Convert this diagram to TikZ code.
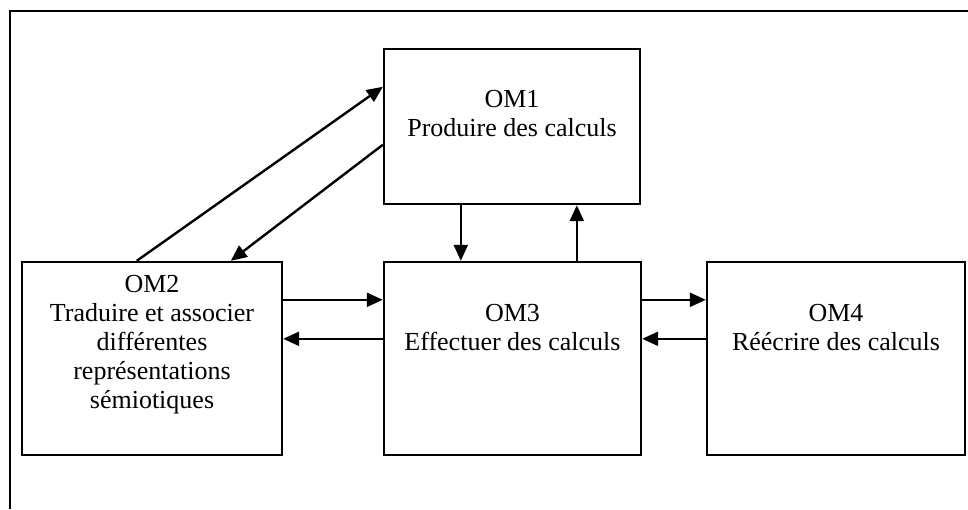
\documentclass[tikz,border=0pt]{standalone}
\usepackage{fontspec}
\setmainfont{Liberation Serif}
\usetikzlibrary{arrows.meta,calc,positioning}

\tikzset{
  ombox/.style={draw, line width=1.2pt, inner sep=0pt, minimum height=96.5pt},
  omtext/.style={align=center, inner sep=0pt, anchor=base,
    font=\fontsize{13}{14.5}\selectfont},
  fleche/.style={line width=1.2pt, -{Triangle[length=8pt,width=7pt]}}
}

\begin{document}
\begin{tikzpicture}[x=0.5pt,y=-0.5pt]
  \useasboundingbox (0,0) rectangle (968,509);
  % cadre (coupe en bas et a droite)
  \draw[line width=1.2pt] (968,11) -- (10,11) -- (10,509);

  % les quatre organisations mathematiques
  \node[ombox, minimum width=128pt, minimum height=77.5pt] (om1) at (512,126.5) {};
  \node[ombox, minimum width=130pt] (om2) at (152,358.5) {};
  \node[ombox, minimum width=128.5pt] (om3) at (512.5,358.5) {};
  \node[ombox, minimum width=129pt] (om4) at (836,358.5) {};

  % texte : ancre sur la ligne de base de la derniere ligne
  \node[omtext] (t1) at ($(om1.north)+(0,89)$) {OM1\\Produire des calculs};
  \node[omtext] (t2) at ($(om2.north)+(0,148)$) {OM2\\Traduire et associer\\diff\'erentes\\repr\'esentations\\s\'emiotiques};
  \node[omtext] (t3) at ($(om3.north)+(0,90)$) {OM3\\Effectuer des calculs};
  \node[omtext] (t4) at ($(om4.north)+(0,90)$) {OM4\\R\'e\'ecrire des calculs};

  % liens
  \draw[fleche] ($(om2.north west)+(116,0)$) -- ($(om1.north west)+(0,39)$);
  \draw[fleche] ($(om1.north west)+(0,97)$) -- ($(om2.north west)+(210,0)$);
  \draw[fleche] ($(om1.south west)+(78,0)$) -- ($(om3.north west)+(78,0)$);
  \draw[fleche] ($(om3.north west)+(194,0)$) -- ($(om1.south west)+(194,0)$);
  \draw[fleche] ($(om2.north east)+(0,39)$) -- ($(om3.north west)+(0,39)$);
  \draw[fleche] ($(om3.north west)+(0,78)$) -- ($(om2.north east)+(0,78)$);
  \draw[fleche] ($(om3.north east)+(0,39)$) -- ($(om4.north west)+(0,39)$);
  \draw[fleche] ($(om4.north west)+(0,78)$) -- ($(om3.north east)+(0,78)$);
\end{tikzpicture}
\end{document}
